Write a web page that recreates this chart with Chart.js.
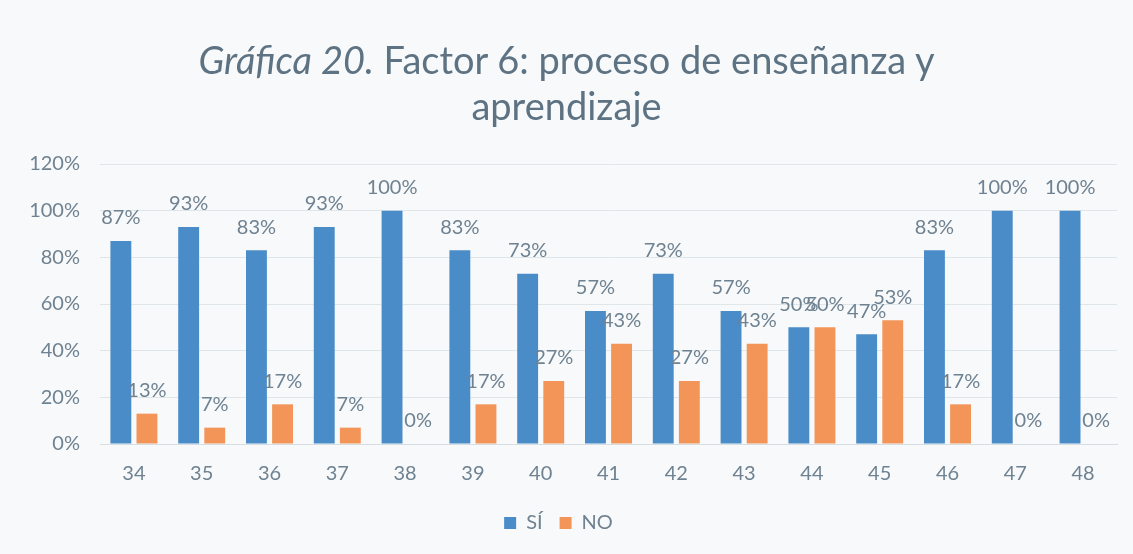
<!DOCTYPE html>
<html>
<head>
<meta charset="utf-8">
<script src="https://cdn.jsdelivr.net/npm/chart.js@4"></script>
<style>
  html, body { margin: 0; padding: 0; background: #f7f9fa; }
  #wrap { position: relative; width: 1133px; height: 554px; }
  #title {
    position: absolute; left: 0; top: 36px; width: 1133px;
    text-align: center; font-family: Lato, "Open Sans", sans-serif;
    font-size: 38px; line-height: 46px; color: #5d7282;
  }
  #title i { font-style: italic; }
</style>
</head>
<body>
<div id="wrap">
  <div id="title"><i>Gráfica 20.</i> Factor 6: proceso de enseñanza y<br>aprendizaje</div>
  <canvas id="chart" width="1133" height="554"></canvas>
</div>
<script>
// data
const categories = ["34", "35", "36", "37", "38", "39", "40", "41", "42", "43", "44", "45", "46", "47", "48"];
const siValues = [87, 93, 83, 93, 100, 83, 73, 57, 73, 57, 50, 47, 83, 100, 100];
const noValues = [13, 7, 17, 7, 0, 17, 27, 43, 27, 43, 50, 53, 17, 0, 0];
const yTicks = [0, 20, 40, 60, 80, 100, 120];

const textGray = "#6f8291";

// draws the percentage above each bar
const barLabels = {
  id: "barLabels",
  afterDatasetsDraw(chart) {
    const ctx = chart.ctx;
    ctx.save();
    ctx.font = "20px Lato, 'Open Sans', sans-serif";
    ctx.fillStyle = textGray;
    ctx.textAlign = "center";
    ctx.textBaseline = "middle";
    chart.data.datasets.forEach((ds, i) => {
      chart.getDatasetMeta(i).data.forEach((bar, j) => {
        ctx.fillText(ds.data[j] + "%", bar.x, bar.y - 23);
      });
    });
    ctx.restore();
  }
};

new Chart(document.getElementById("chart").getContext("2d"), {
  type: "bar",
  data: {
    labels: categories,
    datasets: [
      { label: "SÍ", data: siValues, backgroundColor: "#4a8cc8" },
      { label: "NO", data: noValues, backgroundColor: "#f39558" }
    ]
  },
  options: {
    responsive: false,
    animation: false,
    layout: { padding: { top: 164, right: 16, left: 0, bottom: 11 } },
    datasets: { bar: { categoryPercentage: 0.77, barPercentage: 0.8 } },
    scales: {
      x: {
        grid: { display: false },
        border: { color: "#d6dde3" },
        ticks: { color: textGray, font: { size: 20, family: "Lato" }, padding: 10 }
      },
      y: {
        min: 0, max: 120,
        afterFit(scale) { scale.width = 100; },
        afterBuildTicks(scale) { scale.ticks = yTicks.map(v => ({ value: v })); },
        grid: { color: "#dfe6ea", drawTicks: false },
        border: { display: false },
        ticks: {
          color: textGray, font: { size: 20, family: "Lato" }, padding: 20,
          callback: v => v + "%"
        }
      }
    },
    plugins: {
      legend: {
        position: "bottom",
        labels: { color: textGray, font: { size: 20, family: "Lato" }, boxWidth: 12, boxHeight: 12, padding: 17 }
      },
      title: { display: false },
      tooltip: { enabled: false }
    }
  },
  plugins: [barLabels]
});
</script>
</body>
</html>
